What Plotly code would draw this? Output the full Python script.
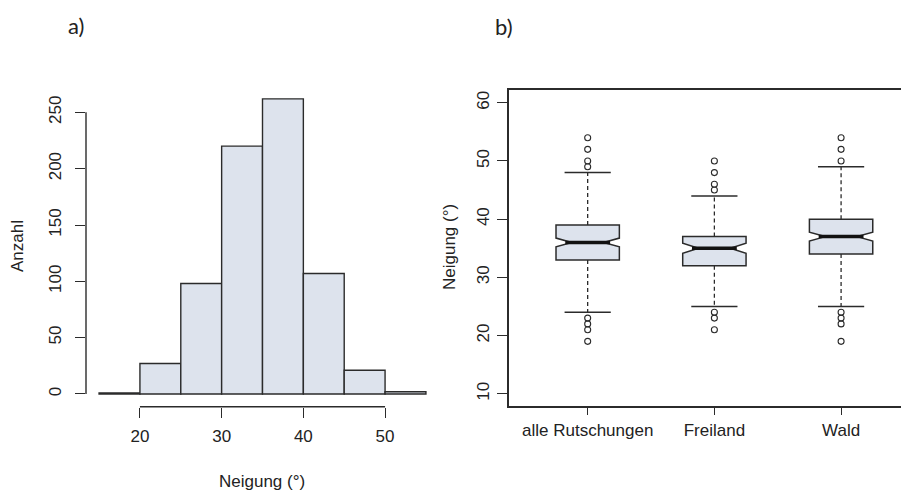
import plotly.graph_objects as go

# ---------------- data ----------------
# Histogram (a): slope classes (°) and counts
bin_edges = [15, 20, 25, 30, 35, 40, 45, 50, 55]
counts = [1, 27, 98, 220, 262, 107, 21, 2]
hist_xticks = [20, 30, 40, 50]
hist_yticks = [0, 50, 100, 150, 200, 250]

# Boxplots (b)
groups = ["alle Rutschungen", "Freiland", "Wald"]
q1 = [33, 32, 34]
median = [36, 35, 37]
q3 = [39, 37, 40]
lower_whisker = [24, 25, 25]
upper_whisker = [48, 44, 49]
notch_span = [0.75, 0.85, 0.75]
outliers = [
    [54, 52, 50, 49, 23, 22, 21, 19],
    [50, 48, 46, 45, 24, 23, 21],
    [54, 52, 50, 24, 23, 22, 19],
]
box_yticks = [10, 20, 30, 40, 50, 60]

# ---------------- style ----------------
# page has an 8px body margin; figure sized so it fits the 909x490 window
OFF = 8
W, H = 909 - OFF, 490 - OFF
FILL = "#dde3ed"
LINE = "#2b2b2b"
FONT = "Liberation Sans, Arial, sans-serif"
TXT = "#222222"
FS = 17


def px_x(p):
    return (p - OFF) / W


def px_y(p):
    return 1 - (p - OFF) / H


fig = go.Figure()

# ---- (a) histogram ----
centers = [(a + b) / 2 for a, b in zip(bin_edges[:-1], bin_edges[1:])]
widths = [b - a for a, b in zip(bin_edges[:-1], bin_edges[1:])]
fig.add_trace(go.Bar(
    x=centers, y=counts, width=widths,
    marker=dict(color=FILL, line=dict(color=LINE, width=1.4)),
    xaxis="x", yaxis="y", showlegend=False, hoverinfo="x+y",
))

# ---- (b) notched boxplots ----
fig.add_trace(go.Box(
    x=groups, q1=q1, median=median, q3=q3,
    lowerfence=q1, upperfence=q3,
    notched=True, notchspan=notch_span, notchwidth=0.25,
    width=0.5, whiskerwidth=0,
    fillcolor=FILL, line=dict(color=LINE, width=1.5),
    boxpoints=False, xaxis="x2", yaxis="y2", showlegend=False,
))

# dashed whiskers
for g, lo, hi, a, b in zip(groups, lower_whisker, upper_whisker, q1, q3):
    fig.add_trace(go.Scatter(
        x=[g, g, None, g, g], y=[b, hi, None, a, lo], mode="lines",
        line=dict(color=LINE, width=1.3, dash="4px,3px"),
        xaxis="x2", yaxis="y2", showlegend=False, hoverinfo="skip",
    ))

# whisker caps
fig.add_trace(go.Scatter(
    x=groups + groups, y=lower_whisker + upper_whisker, mode="markers",
    marker=dict(symbol="line-ew", size=33, line=dict(color=LINE, width=1.5)),
    xaxis="x2", yaxis="y2", showlegend=False, hoverinfo="y",
))

# thick medians
fig.add_trace(go.Scatter(
    x=groups, y=median, mode="markers",
    marker=dict(symbol="line-ew", size=32, line=dict(color="#111111", width=3.5)),
    xaxis="x2", yaxis="y2", showlegend=False, hoverinfo="y",
))

# outliers
ox, oy = [], []
for g, vals in zip(groups, outliers):
    ox += [g] * len(vals)
    oy += vals
fig.add_trace(go.Scatter(
    x=ox, y=oy, mode="markers",
    marker=dict(symbol="circle-open", size=6, color=LINE, line=dict(width=1.1)),
    xaxis="x2", yaxis="y2", showlegend=False, hoverinfo="y",
))

tickfont = dict(family=FONT, size=FS, color=TXT)
labfont = dict(family="Lato, Open Sans, sans-serif", size=22, color=TXT)

fig.update_layout(
    width=W, height=H,
    margin=dict(l=0, r=0, t=0, b=0),
    paper_bgcolor="white", plot_bgcolor="rgba(0,0,0,0)",
    font=dict(family=FONT, color=TXT),
    xaxis=dict(
        domain=[px_x(86), px_x(439)], range=[13.4, 56.6],
        tickvals=hist_xticks, ticks="outside", ticklen=10, tickwidth=1.3,
        tickcolor=LINE, showline=False, showgrid=False, zeroline=False,
        tickfont=tickfont, ticklabelstandoff=4, anchor="y",
    ),
    yaxis=dict(
        domain=[px_y(406.7), px_y(87)], range=[-11.3, 272.5],
        tickvals=hist_yticks, ticks="outside", ticklen=10, tickwidth=1.3,
        tickcolor=LINE, showline=False, showgrid=False, zeroline=False,
        tickfont=tickfont, tickangle=-90, ticklabelstandoff=7, anchor="x",
    ),
    xaxis2=dict(
        domain=[px_x(509), 1.0], range=[-0.621, 2.536],
        type="category", ticks="outside", ticklen=8, tickwidth=1.3,
        tickcolor=LINE, showline=True, linecolor=LINE, linewidth=1.5,
        mirror=True, showgrid=False, zeroline=False, tickfont=tickfont,
        anchor="y2", ticklabelstandoff=0,
    ),
    yaxis2=dict(
        domain=[px_y(405.7), px_y(90)], range=[7.94, 62.2],
        tickvals=box_yticks, ticks="outside", ticklen=10, tickwidth=1.3,
        tickcolor=LINE, showline=True, linecolor=LINE, linewidth=1.5,
        mirror=False, showgrid=False, zeroline=False, tickfont=tickfont,
        tickangle=-90, anchor="x2", ticklabelstandoff=1,
    ),
    shapes=[
        # R-style axis lines spanning only the tick range
        dict(type="line", xref="x", yref="y domain",
             x0=min(hist_xticks), x1=max(hist_xticks), y0=0, y1=0,
             line=dict(color=LINE, width=1.4)),
        dict(type="line", xref="x domain", yref="y",
             x0=0, x1=0, y0=min(hist_yticks), y1=max(hist_yticks),
             line=dict(color=LINE, width=1.4)),
    ],
    annotations=[
        dict(text="a)", x=px_x(76), y=px_y(26), xref="paper", yref="paper",
             xanchor="center", yanchor="middle", showarrow=False, font=labfont),
        dict(text="b)", x=px_x(504), y=px_y(27), xref="paper", yref="paper",
             xanchor="center", yanchor="middle", showarrow=False, font=labfont),
        dict(text="Neigung (°)", x=px_x(262), y=px_y(481), xref="paper", yref="paper",
             xanchor="center", yanchor="middle", showarrow=False,
             font=dict(family=FONT, size=FS, color=TXT)),
        dict(text="Anzahl", x=px_x(17), y=px_y(246), xref="paper", yref="paper",
             xanchor="center", yanchor="middle", showarrow=False, textangle=-90,
             font=dict(family=FONT, size=FS, color=TXT)),
        dict(text="Neigung (°)", x=px_x(449), y=px_y(247), xref="paper", yref="paper",
             xanchor="center", yanchor="middle", showarrow=False, textangle=-90,
             font=dict(family=FONT, size=FS, color=TXT)),
    ],
)

fig.write_html("out.html")
